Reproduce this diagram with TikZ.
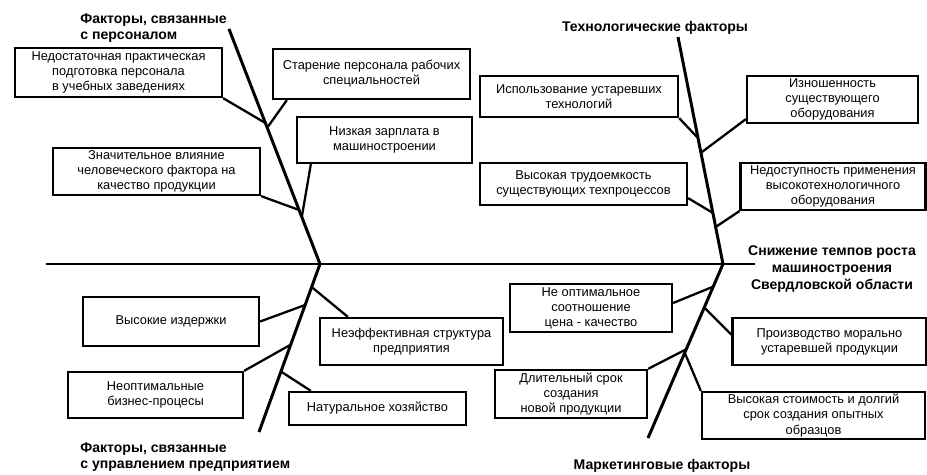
\documentclass[tikz,border=0pt]{standalone}
\usepackage{fontspec}
\setmainfont{Liberation Sans}
\usetikzlibrary{calc}
\newcommand{\pxl}{0.02cm}

\begin{document}
\begin{tikzpicture}[x=0.02cm, y=-0.02cm,
  box/.style={
    draw, line width=1.3pt, inner sep=1pt,
    align=center, font=\fontsize{7.3}{8.6}\selectfont
  },
  cat/.style={font=\fontsize{8}{9.6}\selectfont\bfseries, inner sep=0pt},
  bone/.style={line width=1.7pt},
  twig/.style={line width=1.3pt}
]
\useasboundingbox (0,0) rectangle (927,474);
% spine and the four bones
\coordinate (tail) at (46,264);
\coordinate (J1) at (320,264);
\coordinate (J2) at (723,264);
\coordinate (T1) at (229,29);
\coordinate (B1) at (259,432);
\coordinate (T2) at (678,37);
\coordinate (B2) at (648,438);
\node[cat, align=center] (res) at (832,269)
  {Снижение темпов роста\\машиностроения\\Свердловской области};
\draw[bone] (tail) -- (J2) -- ++(32,0) coordinate (tip);
\draw[bone] (T1) -- (J1) -- (B1);
\draw[bone] (T2) -- (J2) -- (B2);
% category labels
\node[cat, anchor=north west, align=left] (catP) at (80,13)
  {Факторы, связанные\\с персоналом};
\node[cat] (catT) at (655,28) {Технологические факторы};
\node[cat, anchor=north west, align=left] (catU) at (80,442)
  {Факторы, связанные\\с управлением предприятием};
\node[cat] (catM) at (662,466) {Маркетинговые факторы};
% personnel factors
\node[box, minimum width=207*\pxl, minimum height=49*\pxl] (p1) at (118.5,72.5)
  {Недостаточная практическая\\подготовка персонала\\в учебных заведениях};
\node[box, minimum width=197*\pxl, minimum height=50*\pxl] (p2) at (371.5,74)
  {Старение персонала рабочих\\специальностей};
\node[box, minimum width=175*\pxl, minimum height=46*\pxl] (p3) at (384.5,140)
  {Низкая зарплата в\\машиностроении};
\node[box, minimum width=207*\pxl, minimum height=47*\pxl] (p4) at (156.5,171.5)
  {Значительное влияние\\человеческого фактора на\\качество продукции};
\draw[twig] (p1.south east) -- ($(T1)!0.40!(J1)$);
\draw[twig] ($(p2.south west)+(15,0)$) -- ($(T1)!0.42!(J1)$);
\draw[twig] ($(p3.south west)+(15,0)$) -- ($(T1)!0.80!(J1)$);
\draw[twig] (p4.south east) -- ($(T1)!0.77!(J1)$);
% technological factors
\node[box, minimum width=198*\pxl, minimum height=41*\pxl] (t1) at (579,96.5)
  {Использование устаревших\\технологий};
\node[box, minimum width=171*\pxl, minimum height=47*\pxl] (t2) at (832.5,99.5)
  {Изношенность\\существующего\\оборудования};
\node[box, minimum width=207*\pxl, minimum height=42*\pxl] (t3) at (583.5,184)
  {Высокая трудоемкость\\существующих техпроцессов};
\node[box, minimum width=185*\pxl, minimum height=47*\pxl] (t4) at (833,186.5)
  {Недоступность применения\\высокотехнологичного\\оборудования};
\draw[twig] (t1.south east) -- ($(T2)!0.445!(J2)$);
\draw[twig] ($(t2.south west)+(0,-5)$) -- ($(T2)!0.51!(J2)$);
\draw[twig] ($(t3.south east)+(0,-8)$) -- ($(T2)!0.775!(J2)$);
\draw[twig] (t4.south west) -- ($(T2)!0.837!(J2)$);
% management factors
\node[box, minimum width=176*\pxl, minimum height=49*\pxl] (u1) at (171,321.5)
  {Высокие издержки};
\node[box, minimum width=175*\pxl, minimum height=46*\pxl] (u2) at (155.5,395)
  {Неоптимальные\\бизнес-процесы};
\node[box, minimum width=183*\pxl, minimum height=47*\pxl] (u3) at (411.5,341.5)
  {Неэффективная структура\\предприятия};
\node[box, minimum width=177*\pxl, minimum height=33*\pxl] (u4) at (377.5,408.5)
  {Натуральное хозяйство};
\draw[twig] (u1.east) -- ($(J1)!0.244!(B1)$);
\draw[twig] (u2.north east) -- ($(J1)!0.48!(B1)$);
\draw[twig] ($(u3.north west)+(29,0)$) -- ($(J1)!0.137!(B1)$);
\draw[twig] ($(u4.north west)+(23,0)$) -- ($(J1)!0.64!(B1)$);
% marketing factors
\node[box, minimum width=162*\pxl, minimum height=48*\pxl] (m1) at (591,308)
  {Не оптимальное\\соотношение\\цена - качество};
\node[box, minimum width=194*\pxl, minimum height=47*\pxl] (m2) at (829.5,341.5)
  {Производство морально\\устаревшей продукции};
\node[box, minimum width=152*\pxl, minimum height=48*\pxl] (m3) at (571,394)
  {Длительный срок\\создания\\новой продукции};
\node[box, minimum width=223*\pxl, minimum height=47*\pxl] (m4) at (813.5,415.5)
  {Высокая стоимость и долгий\\срок создания опытных\\образцов};
\draw[twig] ($(m1.east)+(0,-5)$) -- ($(J2)!0.13!(B2)$);
\draw[twig] ($(m2.west)+(0,-7)$) -- ($(J2)!0.25!(B2)$);
\draw[twig] (m3.north east) -- ($(J2)!0.49!(B2)$);
\draw[twig] (m4.north west) -- ($(J2)!0.51!(B2)$);
\end{tikzpicture}
\end{document}
